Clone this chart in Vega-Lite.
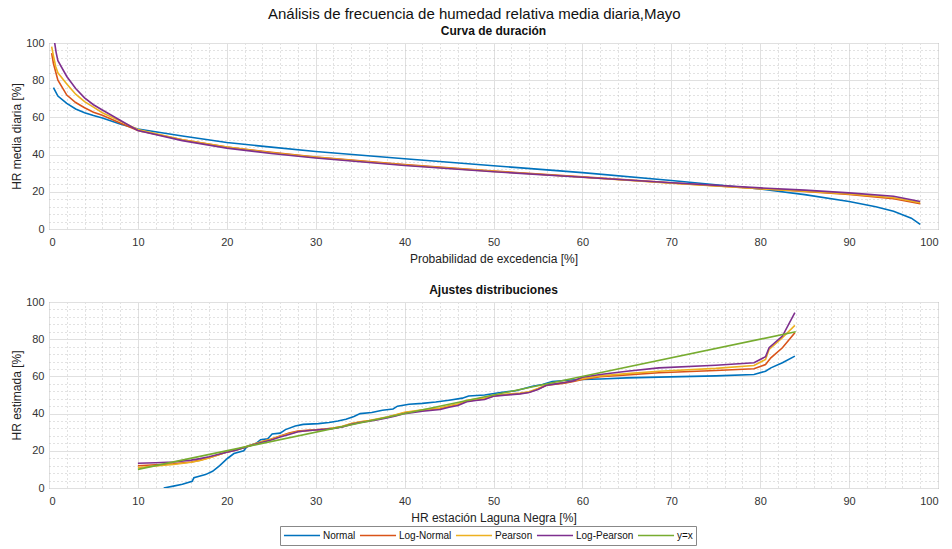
{
  "$schema": "https://vega.github.io/schema/vega-lite/v6.json",
  "background": "white",
  "padding": {"left": 10, "top": 6, "right": 5, "bottom": 2},
  "title": {"text": "Análisis de frecuencia de humedad relativa media diaria,Mayo", "fontSize": 15, "fontWeight": "normal", "color": "#111", "anchor": "middle", "offset": 3},
  "datasets": {
    "duracion": [
      {"serie":"Normal","x":0.5,"y":76},{"serie":"Normal","x":1,"y":71.5},{"serie":"Normal","x":2,"y":67.5},{"serie":"Normal","x":3,"y":64.5},{"serie":"Normal","x":4,"y":62.5},{"serie":"Normal","x":5,"y":61},{"serie":"Normal","x":6,"y":59.7},{"serie":"Normal","x":8,"y":56.5},{"serie":"Normal","x":10,"y":53.8},{"serie":"Normal","x":15,"y":50},{"serie":"Normal","x":20,"y":46.5},{"serie":"Normal","x":25,"y":44},{"serie":"Normal","x":30,"y":41.7},{"serie":"Normal","x":40,"y":37.8},{"serie":"Normal","x":50,"y":34},{"serie":"Normal","x":60,"y":30.3},{"serie":"Normal","x":70,"y":26.1},{"serie":"Normal","x":80,"y":21.5},{"serie":"Normal","x":85,"y":18.5},{"serie":"Normal","x":90,"y":14.8},{"serie":"Normal","x":93,"y":12},{"serie":"Normal","x":95,"y":9.5},{"serie":"Normal","x":97,"y":5.8},{"serie":"Normal","x":98,"y":2.5},
      {"serie":"Log-Normal","x":0.3,"y":94.5},{"serie":"Log-Normal","x":0.5,"y":89},{"serie":"Log-Normal","x":1,"y":80},{"serie":"Log-Normal","x":2,"y":72},{"serie":"Log-Normal","x":3,"y":68},{"serie":"Log-Normal","x":4,"y":65.2},{"serie":"Log-Normal","x":5,"y":62.8},{"serie":"Log-Normal","x":6,"y":61.2},{"serie":"Log-Normal","x":8,"y":57},{"serie":"Log-Normal","x":10,"y":53},{"serie":"Log-Normal","x":15,"y":48},{"serie":"Log-Normal","x":20,"y":44},{"serie":"Log-Normal","x":25,"y":41.2},{"serie":"Log-Normal","x":30,"y":38.7},{"serie":"Log-Normal","x":40,"y":34.6},{"serie":"Log-Normal","x":50,"y":31.2},{"serie":"Log-Normal","x":60,"y":28},{"serie":"Log-Normal","x":70,"y":24.8},{"serie":"Log-Normal","x":80,"y":21.7},{"serie":"Log-Normal","x":85,"y":20.2},{"serie":"Log-Normal","x":90,"y":18.6},{"serie":"Log-Normal","x":95,"y":16.3},{"serie":"Log-Normal","x":98,"y":13.6},
      {"serie":"Pearson","x":0.3,"y":98},{"serie":"Pearson","x":0.5,"y":93},{"serie":"Pearson","x":0.75,"y":87.4},{"serie":"Pearson","x":1,"y":84},{"serie":"Pearson","x":2,"y":78},{"serie":"Pearson","x":3,"y":72.5},{"serie":"Pearson","x":4,"y":68.5},{"serie":"Pearson","x":5,"y":65.5},{"serie":"Pearson","x":6,"y":62.5},{"serie":"Pearson","x":8,"y":58},{"serie":"Pearson","x":10,"y":53.5},{"serie":"Pearson","x":15,"y":48},{"serie":"Pearson","x":20,"y":44},{"serie":"Pearson","x":25,"y":41},{"serie":"Pearson","x":30,"y":38.5},{"serie":"Pearson","x":40,"y":34.4},{"serie":"Pearson","x":50,"y":31},{"serie":"Pearson","x":60,"y":27.8},{"serie":"Pearson","x":70,"y":24.6},{"serie":"Pearson","x":80,"y":21.6},{"serie":"Pearson","x":85,"y":20.3},{"serie":"Pearson","x":90,"y":18.9},{"serie":"Pearson","x":95,"y":16.8},{"serie":"Pearson","x":98,"y":14.2},
      {"serie":"Log-Pearson","x":0.5,"y":106},{"serie":"Log-Pearson","x":0.64,"y":100},{"serie":"Log-Pearson","x":0.8,"y":95},{"serie":"Log-Pearson","x":1,"y":90.5},{"serie":"Log-Pearson","x":2,"y":82},{"serie":"Log-Pearson","x":3,"y":75.5},{"serie":"Log-Pearson","x":4,"y":70.5},{"serie":"Log-Pearson","x":5,"y":66.8},{"serie":"Log-Pearson","x":6,"y":64},{"serie":"Log-Pearson","x":8,"y":58.5},{"serie":"Log-Pearson","x":10,"y":53},{"serie":"Log-Pearson","x":15,"y":47.5},{"serie":"Log-Pearson","x":20,"y":43.5},{"serie":"Log-Pearson","x":25,"y":40.6},{"serie":"Log-Pearson","x":30,"y":38.2},{"serie":"Log-Pearson","x":40,"y":34.1},{"serie":"Log-Pearson","x":50,"y":30.8},{"serie":"Log-Pearson","x":60,"y":27.8},{"serie":"Log-Pearson","x":70,"y":24.9},{"serie":"Log-Pearson","x":80,"y":22.1},{"serie":"Log-Pearson","x":85,"y":20.9},{"serie":"Log-Pearson","x":90,"y":19.4},{"serie":"Log-Pearson","x":95,"y":17.6},{"serie":"Log-Pearson","x":98,"y":14.8}
    ],
    "ajustes": [
      {"serie":"Normal","x":12.9,"y":0},{"serie":"Normal","x":14,"y":1},{"serie":"Normal","x":15,"y":2},{"serie":"Normal","x":16.1,"y":3.6},{"serie":"Normal","x":16.3,"y":5.5},{"serie":"Normal","x":17,"y":6.5},{"serie":"Normal","x":17.6,"y":7.2},{"serie":"Normal","x":18.4,"y":9},{"serie":"Normal","x":19.2,"y":12},{"serie":"Normal","x":20.1,"y":16},{"serie":"Normal","x":20.8,"y":18.5},{"serie":"Normal","x":21.9,"y":20},{"serie":"Normal","x":22.3,"y":22.5},{"serie":"Normal","x":23.3,"y":24},{"serie":"Normal","x":23.8,"y":26},{"serie":"Normal","x":24.6,"y":26.5},{"serie":"Normal","x":25.1,"y":29},{"serie":"Normal","x":26,"y":29.5},{"serie":"Normal","x":26.6,"y":31.4},{"serie":"Normal","x":27.7,"y":33.3},{"serie":"Normal","x":28.6,"y":34.2},{"serie":"Normal","x":30.3,"y":34.6},{"serie":"Normal","x":31.5,"y":35.2},{"serie":"Normal","x":32.5,"y":36},{"serie":"Normal","x":33.4,"y":37},{"serie":"Normal","x":34.3,"y":38.5},{"serie":"Normal","x":35,"y":40},{"serie":"Normal","x":36.3,"y":40.6},{"serie":"Normal","x":37.5,"y":41.8},{"serie":"Normal","x":38.7,"y":42.5},{"serie":"Normal","x":39.2,"y":44},{"serie":"Normal","x":40.5,"y":45},{"serie":"Normal","x":42,"y":45.5},{"serie":"Normal","x":43.5,"y":46.2},{"serie":"Normal","x":45,"y":47.2},{"serie":"Normal","x":46.5,"y":48.3},{"serie":"Normal","x":47.2,"y":49.5},{"serie":"Normal","x":49,"y":50},{"serie":"Normal","x":50.6,"y":51.2},{"serie":"Normal","x":52.5,"y":52.3},{"serie":"Normal","x":54.4,"y":54.7},{"serie":"Normal","x":55.5,"y":55.6},{"serie":"Normal","x":56.6,"y":57.2},{"serie":"Normal","x":58,"y":57.8},{"serie":"Normal","x":60,"y":58.4},{"serie":"Normal","x":62,"y":58.6},{"serie":"Normal","x":65,"y":59.2},{"serie":"Normal","x":68.6,"y":59.6},{"serie":"Normal","x":75,"y":60.3},{"serie":"Normal","x":79.3,"y":61},{"serie":"Normal","x":80.6,"y":62.8},{"serie":"Normal","x":81.2,"y":64.6},{"serie":"Normal","x":82.5,"y":67.3},{"serie":"Normal","x":83.9,"y":70.9},
      {"serie":"Log-Normal","x":10,"y":12},{"serie":"Log-Normal","x":12,"y":12.5},{"serie":"Log-Normal","x":14,"y":13},{"serie":"Log-Normal","x":16,"y":14},{"serie":"Log-Normal","x":17,"y":15},{"serie":"Log-Normal","x":18,"y":16.3},{"serie":"Log-Normal","x":19,"y":17.8},{"serie":"Log-Normal","x":20,"y":19.3},{"serie":"Log-Normal","x":21,"y":20.3},{"serie":"Log-Normal","x":22,"y":21.8},{"serie":"Log-Normal","x":23,"y":23.4},{"serie":"Log-Normal","x":24,"y":25},{"serie":"Log-Normal","x":25,"y":26.3},{"serie":"Log-Normal","x":26,"y":28},{"serie":"Log-Normal","x":27,"y":29.5},{"serie":"Log-Normal","x":28,"y":30.6},{"serie":"Log-Normal","x":29,"y":31},{"serie":"Log-Normal","x":30,"y":31.3},{"serie":"Log-Normal","x":31,"y":31.7},{"serie":"Log-Normal","x":32,"y":32.2},{"serie":"Log-Normal","x":33,"y":33},{"serie":"Log-Normal","x":34,"y":34.5},{"serie":"Log-Normal","x":35,"y":35.5},{"serie":"Log-Normal","x":36,"y":36.2},{"serie":"Log-Normal","x":37,"y":37},{"serie":"Log-Normal","x":38,"y":38},{"serie":"Log-Normal","x":39,"y":39.2},{"serie":"Log-Normal","x":40,"y":40.5},{"serie":"Log-Normal","x":42,"y":41.8},{"serie":"Log-Normal","x":44,"y":42.8},{"serie":"Log-Normal","x":45,"y":44},{"serie":"Log-Normal","x":46,"y":45},{"serie":"Log-Normal","x":47,"y":46.8},{"serie":"Log-Normal","x":48,"y":47.3},{"serie":"Log-Normal","x":49,"y":48},{"serie":"Log-Normal","x":50,"y":49.5},{"serie":"Log-Normal","x":51,"y":50},{"serie":"Log-Normal","x":53,"y":50.8},{"serie":"Log-Normal","x":54,"y":51.5},{"serie":"Log-Normal","x":55,"y":53.2},{"serie":"Log-Normal","x":56,"y":55.2},{"serie":"Log-Normal","x":57,"y":55.8},{"serie":"Log-Normal","x":58,"y":56.4},{"serie":"Log-Normal","x":59,"y":57.3},{"serie":"Log-Normal","x":60,"y":58.4},{"serie":"Log-Normal","x":62,"y":59.8},{"serie":"Log-Normal","x":65,"y":60.8},{"serie":"Log-Normal","x":68.6,"y":62},{"serie":"Log-Normal","x":75,"y":63.2},{"serie":"Log-Normal","x":79.3,"y":64.1},{"serie":"Log-Normal","x":80.6,"y":66.4},{"serie":"Log-Normal","x":81.2,"y":70},{"serie":"Log-Normal","x":82.5,"y":75.4},{"serie":"Log-Normal","x":83.9,"y":83.5},
      {"serie":"Pearson","x":10,"y":11},{"serie":"Pearson","x":12,"y":11.8},{"serie":"Pearson","x":14,"y":12.6},{"serie":"Pearson","x":16,"y":13.8},{"serie":"Pearson","x":17,"y":14.8},{"serie":"Pearson","x":18,"y":16.2},{"serie":"Pearson","x":19,"y":17.8},{"serie":"Pearson","x":20,"y":19.4},{"serie":"Pearson","x":21,"y":20.5},{"serie":"Pearson","x":22,"y":22},{"serie":"Pearson","x":23,"y":23.5},{"serie":"Pearson","x":24,"y":25},{"serie":"Pearson","x":25,"y":26.2},{"serie":"Pearson","x":26,"y":27.8},{"serie":"Pearson","x":27,"y":29.2},{"serie":"Pearson","x":28,"y":30.3},{"serie":"Pearson","x":29,"y":30.8},{"serie":"Pearson","x":30,"y":31.2},{"serie":"Pearson","x":31,"y":31.6},{"serie":"Pearson","x":32,"y":32.2},{"serie":"Pearson","x":33,"y":33.2},{"serie":"Pearson","x":34,"y":34.6},{"serie":"Pearson","x":35,"y":35.6},{"serie":"Pearson","x":36,"y":36.3},{"serie":"Pearson","x":37,"y":37.2},{"serie":"Pearson","x":38,"y":38.2},{"serie":"Pearson","x":39,"y":39.4},{"serie":"Pearson","x":40,"y":40.7},{"serie":"Pearson","x":42,"y":42},{"serie":"Pearson","x":44,"y":43},{"serie":"Pearson","x":45,"y":44.2},{"serie":"Pearson","x":46,"y":45.2},{"serie":"Pearson","x":47,"y":47.2},{"serie":"Pearson","x":48,"y":47.8},{"serie":"Pearson","x":49,"y":48.3},{"serie":"Pearson","x":50,"y":49.8},{"serie":"Pearson","x":51,"y":50.3},{"serie":"Pearson","x":53,"y":51},{"serie":"Pearson","x":54,"y":51.7},{"serie":"Pearson","x":55,"y":53.5},{"serie":"Pearson","x":56,"y":55.6},{"serie":"Pearson","x":57,"y":56.2},{"serie":"Pearson","x":58,"y":56.8},{"serie":"Pearson","x":59,"y":57.7},{"serie":"Pearson","x":60,"y":58.8},{"serie":"Pearson","x":62,"y":60.3},{"serie":"Pearson","x":65,"y":61.5},{"serie":"Pearson","x":68.6,"y":62.8},{"serie":"Pearson","x":75,"y":64.3},{"serie":"Pearson","x":79.3,"y":65.9},{"serie":"Pearson","x":80.6,"y":69.1},{"serie":"Pearson","x":81,"y":74.5},{"serie":"Pearson","x":82.5,"y":80.8},{"serie":"Pearson","x":83.9,"y":87.4},
      {"serie":"Log-Pearson","x":10,"y":13.3},{"serie":"Log-Pearson","x":12,"y":13.6},{"serie":"Log-Pearson","x":14,"y":14},{"serie":"Log-Pearson","x":16,"y":15},{"serie":"Log-Pearson","x":17,"y":15.8},{"serie":"Log-Pearson","x":18,"y":16.8},{"serie":"Log-Pearson","x":19,"y":18},{"serie":"Log-Pearson","x":20,"y":19.2},{"serie":"Log-Pearson","x":21,"y":20.3},{"serie":"Log-Pearson","x":22,"y":21.8},{"serie":"Log-Pearson","x":23,"y":23.2},{"serie":"Log-Pearson","x":24,"y":24.6},{"serie":"Log-Pearson","x":25,"y":25.8},{"serie":"Log-Pearson","x":26,"y":27.4},{"serie":"Log-Pearson","x":27,"y":28.8},{"serie":"Log-Pearson","x":28,"y":30.2},{"serie":"Log-Pearson","x":29,"y":30.8},{"serie":"Log-Pearson","x":30,"y":31.2},{"serie":"Log-Pearson","x":31,"y":31.5},{"serie":"Log-Pearson","x":32,"y":32},{"serie":"Log-Pearson","x":33,"y":32.8},{"serie":"Log-Pearson","x":34,"y":34.2},{"serie":"Log-Pearson","x":35,"y":35.2},{"serie":"Log-Pearson","x":36,"y":35.9},{"serie":"Log-Pearson","x":37,"y":36.7},{"serie":"Log-Pearson","x":38,"y":37.6},{"serie":"Log-Pearson","x":39,"y":38.7},{"serie":"Log-Pearson","x":40,"y":40},{"serie":"Log-Pearson","x":42,"y":41.3},{"serie":"Log-Pearson","x":44,"y":42.2},{"serie":"Log-Pearson","x":45,"y":43.4},{"serie":"Log-Pearson","x":46,"y":44.3},{"serie":"Log-Pearson","x":47,"y":46.4},{"serie":"Log-Pearson","x":48,"y":47},{"serie":"Log-Pearson","x":49,"y":47.6},{"serie":"Log-Pearson","x":50,"y":49.3},{"serie":"Log-Pearson","x":51,"y":49.8},{"serie":"Log-Pearson","x":53,"y":50.6},{"serie":"Log-Pearson","x":54,"y":51.3},{"serie":"Log-Pearson","x":55,"y":53},{"serie":"Log-Pearson","x":56,"y":55.3},{"serie":"Log-Pearson","x":57,"y":56},{"serie":"Log-Pearson","x":58,"y":56.7},{"serie":"Log-Pearson","x":59,"y":57.6},{"serie":"Log-Pearson","x":60,"y":59.5},{"serie":"Log-Pearson","x":62,"y":61},{"serie":"Log-Pearson","x":65,"y":62.8},{"serie":"Log-Pearson","x":68.6,"y":64.6},{"serie":"Log-Pearson","x":75,"y":66},{"serie":"Log-Pearson","x":79.3,"y":67.3},{"serie":"Log-Pearson","x":80.6,"y":70.6},{"serie":"Log-Pearson","x":81,"y":75.4},{"serie":"Log-Pearson","x":82.5,"y":81.7},{"serie":"Log-Pearson","x":83.9,"y":94.3},
      {"serie":"y=x","x":10,"y":10},{"serie":"y=x","x":84,"y":84}
    ]
  },
  "vconcat": [
    {
      "width": 889, "height": 186,
      "title": {"text": "Curva de duración", "fontSize": 12, "fontWeight": "bold", "color": "#111", "offset": -1},
      "data": {"name": "duracion"},
      "mark": {"type": "line", "strokeWidth": 1.6, "clip": true},
      "encoding": {
        "x": {"field": "x", "type": "quantitative", "scale": {"domain": [0, 100], "nice": false},
              "axis": {"title": "Probabilidad de excedencia [%]", "values": [0,2,4,6,8,10,12,14,16,18,20,22,24,26,28,30,32,34,36,38,40,42,44,46,48,50,52,54,56,58,60,62,64,66,68,70,72,74,76,78,80,82,84,86,88,90,92,94,96,98,100], "labelExpr": "datum.value % 10 === 0 ? datum.label : ''"}},
        "y": {"field": "y", "type": "quantitative", "scale": {"domain": [0, 100], "nice": false},
              "axis": {"title": "HR media diaria [%]", "values": [0,4,8,12,16,20,24,28,32,36,40,44,48,52,56,60,64,68,72,76,80,84,88,92,96,100], "labelExpr": "datum.value % 20 === 0 ? datum.label : ''"}},
        "color": {"field": "serie", "type": "nominal",
                  "scale": {"domain": ["Normal","Log-Normal","Pearson","Log-Pearson","y=x"], "range": ["#0072BD","#D95319","#EDB120","#7E2F8E","#77AC30"]},
                  "legend": {"orient": "none", "legendX": 231, "legendY": 483, "direction": "horizontal", "title": null, "symbolType": "stroke", "symbolSize": 1300, "clipHeight": 13, "symbolStrokeWidth": 1.6, "labelFontSize": 10, "labelColor": "#111", "strokeColor": "#888", "padding": 3, "columnPadding": 3, "labelOffset": 2, "fillColor": "white"}}
      }
    },
    {
      "width": 889, "height": 186,
      "title": {"text": "Ajustes distribuciones", "fontSize": 12, "fontWeight": "bold", "color": "#111", "offset": -1},
      "data": {"name": "ajustes"},
      "mark": {"type": "line", "strokeWidth": 1.6, "clip": true},
      "encoding": {
        "x": {"field": "x", "type": "quantitative", "scale": {"domain": [0, 100], "nice": false},
              "axis": {"title": "HR estación Laguna Negra [%]", "values": [0,2,4,6,8,10,12,14,16,18,20,22,24,26,28,30,32,34,36,38,40,42,44,46,48,50,52,54,56,58,60,62,64,66,68,70,72,74,76,78,80,82,84,86,88,90,92,94,96,98,100], "labelExpr": "datum.value % 10 === 0 ? datum.label : ''"}},
        "y": {"field": "y", "type": "quantitative", "scale": {"domain": [0, 100], "nice": false},
              "axis": {"title": "HR estimada [%]", "values": [0,4,8,12,16,20,24,28,32,36,40,44,48,52,56,60,64,68,72,76,80,84,88,92,96,100], "labelExpr": "datum.value % 20 === 0 ? datum.label : ''"}},
        "color": {"field": "serie", "type": "nominal",
                  "scale": {"domain": ["Normal","Log-Normal","Pearson","Log-Pearson","y=x"], "range": ["#0072BD","#D95319","#EDB120","#7E2F8E","#77AC30"]},
                  "legend": {"orient": "none", "legendX": 231, "legendY": 483, "direction": "horizontal", "title": null, "symbolType": "stroke", "symbolSize": 1300, "clipHeight": 13, "symbolStrokeWidth": 1.6, "labelFontSize": 10, "labelColor": "#111", "strokeColor": "#888", "padding": 3, "columnPadding": 3, "labelOffset": 2, "fillColor": "white"}}
      }
    }
  ],
  "spacing": 18,
  "config": {
    "font": "Liberation Sans",
    "view": {"stroke": "#7a7a7a", "strokeWidth": 1},
    "axis": {"labelFontSize": 11, "labelColor": "#333333", "titleFontSize": 12, "titleFontWeight": "normal", "titleColor": "#222222", "domain": false, "tickColor": "#555555", "tickSize": -5, "labelPadding": 12, "gridWidth": 1},
    "axisX": {"titlePadding": 6,
      "gridColor": {"condition": {"test": "datum.value % 10 === 0", "value": "#e0e0e0"}, "value": "#c4c4c4"},
      "gridDash": {"condition": {"test": "datum.value % 10 === 0", "value": []}, "value": [1, 3]},
      "tickOpacity": {"condition": {"test": "datum.value % 10 === 0", "value": 1}, "value": 0}},
    "axisY": {"labelPadding": 10, "titlePadding": 2,
      "gridColor": {"condition": {"test": "datum.value % 20 === 0", "value": "#e0e0e0"}, "value": "#c4c4c4"},
      "gridDash": {"condition": {"test": "datum.value % 20 === 0", "value": []}, "value": [1, 3]},
      "tickOpacity": {"condition": {"test": "datum.value % 20 === 0", "value": 1}, "value": 0}},
    "title": {"font": "Liberation Sans"}
  }
}
